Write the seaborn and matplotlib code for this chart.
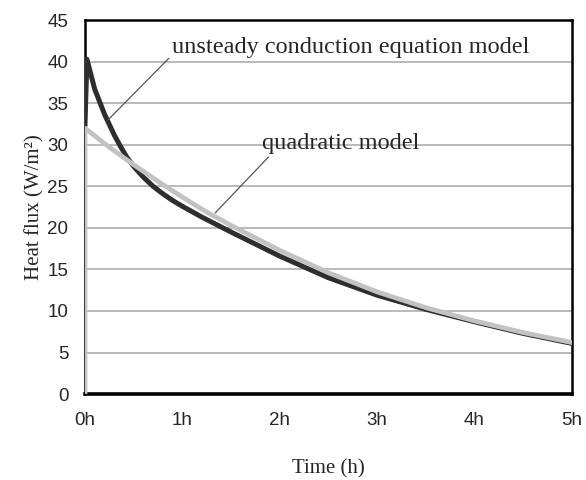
import matplotlib
matplotlib.use("Agg")
import matplotlib.pyplot as plt
import seaborn as sns
import pandas as pd

# Data
quad_t = [0, 0, 0.25, 0.5, 0.75, 1, 1.25, 1.5, 2, 2.5, 3, 3.5, 4, 4.5, 5]
quad_v = [0, 32.0, 29.7, 27.6, 25.6, 23.7, 21.9, 20.3, 17.3, 14.6, 12.3, 10.4, 8.8, 7.4, 6.2]
unst_t = [0, 0.02, 0.1, 0.2, 0.3, 0.36, 0.43, 0.5, 0.6, 0.7, 0.8, 0.9, 1, 1.2, 1.5,
          2, 2.5, 3, 3.5, 4, 4.5, 5]
unst_v = [32.3, 40.3, 36.7, 33.7, 31.2, 29.9, 28.5, 27.4, 26.1, 25.0, 24.1, 23.3, 22.6,
          21.3, 19.5, 16.6, 14.0, 11.9, 10.2, 8.7, 7.3, 6.1]
x_ticks = [0, 1, 2, 3, 4, 5]
x_labels = ["0h", "1h", "2h", "3h", "4h", "5h"]
y_ticks = [0, 5, 10, 15, 20, 25, 30, 35, 40, 45]
label_unst = "unsteady conduction equation model"
label_quad = "quadratic model"

sns.set_style("white")
plt.rcParams["font.family"] = ["Liberation Sans", "DejaVu Sans"]

fig = plt.figure(figsize=(5.86, 4.8), dpi=100)
ax = fig.add_axes([0.145, 0.179, 0.831, 0.779])

df_u = pd.DataFrame({"t": unst_t, "v": unst_v})
df_q = pd.DataFrame({"t": quad_t, "v": quad_v})
sns.lineplot(data=df_u, x="t", y="v", sort=False, ax=ax, color="#2e2e2e",
             linewidth=3.6, estimator=None, zorder=3)
sns.lineplot(data=df_q, x="t", y="v", sort=False, ax=ax, color="#c2c2c2",
             linewidth=3.4, estimator=None, zorder=4)

ax.set_xlim(0, 5)
ax.set_ylim(0, 45)
ax.set_xticks(x_ticks)
ax.set_xticklabels(x_labels)
ax.set_yticks(y_ticks)
ax.yaxis.grid(True, color="#b4b4b4", linewidth=1.3)
ax.set_axisbelow(True)
ax.tick_params(axis="x", direction="in", length=4, width=1.5, color="black",
               labelsize=13.5, pad=13)
ax.tick_params(axis="y", length=0, labelsize=13.5, pad=12)

for side in ["left", "top", "right"]:
    ax.spines[side].set_color("black")
    ax.spines[side].set_linewidth(1.8)
ax.spines["bottom"].set_color("black")
ax.spines["bottom"].set_linewidth(2.6)

ax.set_xlabel("Time (h)", family=["Liberation Serif"], fontsize=15, labelpad=22)
ax.set_ylabel("Heat flux (W/m²)", family=["Liberation Serif"], fontsize=15, labelpad=2)

ax.annotate(label_unst, xy=(0.237, 33.0), xytext=(0.895, 41.7),
            family=["Liberation Serif"], fontsize=17.5, ha="left", va="center",
            arrowprops=dict(arrowstyle="-", color="#555555", lw=0.9,
                            shrinkA=0, shrinkB=0, relpos=(0, 0.15)))
ax.annotate(label_quad, xy=(1.337, 21.8), xytext=(1.82, 30.2),
            family=["Liberation Serif"], fontsize=17.5, ha="left", va="center",
            arrowprops=dict(arrowstyle="-", color="#555555", lw=0.9,
                            shrinkA=0, shrinkB=0, relpos=(0.06, 0.0)))

fig.savefig("out.png", dpi=100, facecolor="white")
